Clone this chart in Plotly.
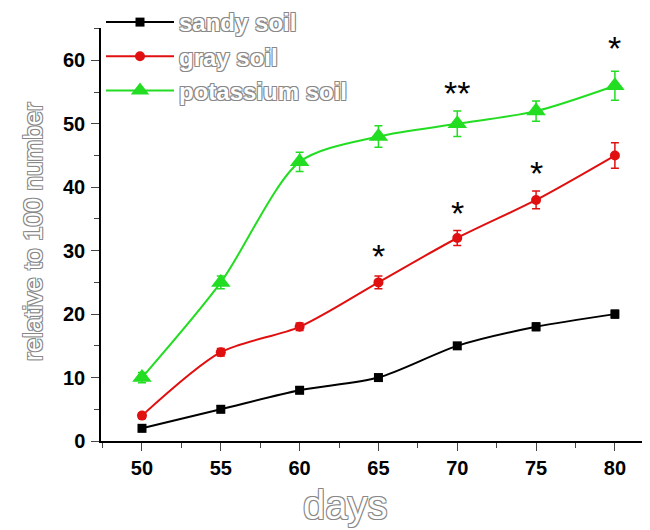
import plotly.graph_objects as go

days = [50, 55, 60, 65, 70, 75, 80]
sandy = [2, 5, 8, 10, 15, 18, 20]
sandy_err = [0.5, 0.5, 0.5, 0.5, 0.5, 0.6, 0.6]
gray = [4, 14, 18, 25, 32, 38, 45]
gray_err = [0.4, 0.6, 0.6, 1.0, 1.2, 1.4, 2.0]
potassium = [10, 25, 44, 48, 50, 52, 56]
potassium_err = [0.8, 1.0, 1.5, 1.7, 2.0, 1.6, 2.3]

star_x = [65, 70, 70, 75, 80]
star_y = [29.7, 36.5, 55.4, 42.9, 62.5]
star_text = ["*", "*", "**", "*", "*"]

fig = go.Figure()
series = [
    ("sandy soil", sandy, sandy_err, "#000000", "square", 9),
    ("gray soil", gray, gray_err, "#e01010", "circle", 10),
    ("potassium soil", potassium, potassium_err, "#22dd22", "triangle-up", 17),
]
for name, y, e, c, sym, sz in series:
    fig.add_trace(go.Scatter(
        x=days, y=y, name=name, mode="lines+markers",
        line=dict(color=c, width=2, shape="spline", smoothing=0.8),
        marker=dict(symbol=sym, size=sz, color=c),
        error_y=dict(type="data", array=e, visible=True, color=c, thickness=1.5, width=4),
    ))

for x, y, t in zip(star_x, star_y, star_text):
    fig.add_annotation(x=x, y=y - 0.6, text=t, showarrow=False,
                       font=dict(size=34, color="black", family="Liberation Sans"))

# page body has an 8px margin: figure drawn 8px right/down of the window origin
W, H = 642, 522
L, T = 93, 20
PW, PH = 547, 413
outline = "-1px -1px 0 #888, 1px -1px 0 #888, -1px 1px 0 #888, 1px 1px 0 #888"
fig.add_annotation(xref="paper", yref="paper", x=(345 - 8 - L) / PW, y=(433 - 497) / PH,
                   text="days", showarrow=False, xanchor="center", yanchor="middle",
                   font=dict(size=40, color="white", family="Liberation Sans", shadow=outline))
fig.add_annotation(xref="paper", yref="paper", x=(33 - 8 - L) / PW, y=(433 - 224) / PH,
                   text="relative to 100 number", showarrow=False, textangle=-90,
                   xanchor="center", yanchor="middle",
                   font=dict(size=26, color="white", family="Liberation Sans", shadow=outline))

fig.update_layout(
    width=W, height=H,
    paper_bgcolor="white", plot_bgcolor="white",
    margin=dict(l=L, r=W - L - PW, t=T, b=H - T - PH, autoexpand=False),
    showlegend=True,
    legend=dict(x=0.0, y=(433 + 8) / PH, xref="paper", yref="paper", xanchor="left", yanchor="top",
                bgcolor="rgba(255,255,255,0.9)",
                font=dict(size=24, color="white", family="Liberation Sans", weight="bold", shadow=outline),
                tracegroupgap=0, itemwidth=68),
    xaxis=dict(range=[47.4, 82.1], tickvals=days, ticks="outside", ticklen=8, automargin=False,
               showline=True, linecolor="black", linewidth=1.5, showgrid=False, zeroline=False,
               tickfont=dict(size=20, color="black", family="Liberation Sans", weight="bold"),
               minor=dict(ticks="outside", ticklen=5, dtick=2.5, tick0=47.5, showgrid=False)),
    yaxis=dict(range=[0, 65.1], tickvals=[0, 10, 20, 30, 40, 50, 60], ticks="outside", ticklen=8,
               automargin=False, ticklabelstandoff=2,
               showline=True, linecolor="black", linewidth=1.5, showgrid=False, zeroline=False,
               tickfont=dict(size=20, color="black", family="Liberation Sans", weight="bold"),
               minor=dict(ticks="outside", ticklen=5, dtick=5, showgrid=False)),
)

fig.write_html("out.html")
